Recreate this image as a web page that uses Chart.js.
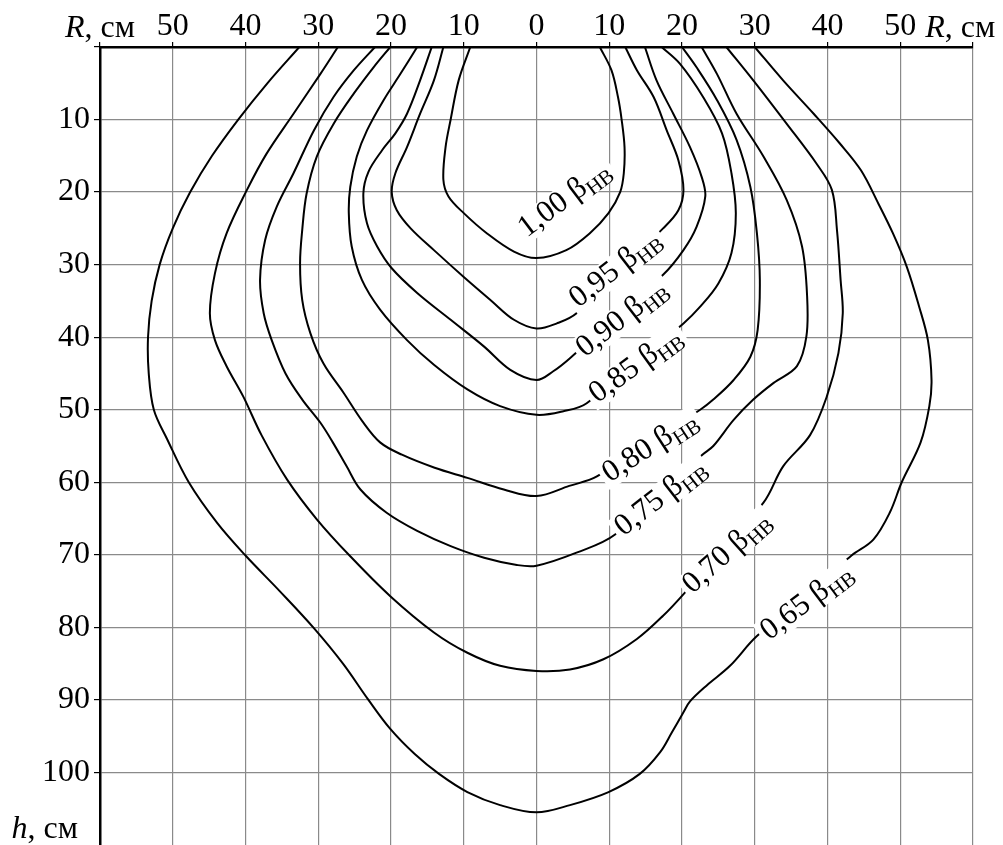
<!DOCTYPE html>
<html>
<head>
<meta charset="utf-8">
<script src="https://cdn.jsdelivr.net/npm/chart.js@4.4.1/dist/chart.umd.min.js"></script>
<style>
  html, body { margin: 0; padding: 0; background: #fff; }
  #wrap { width: 1003px; height: 845px; position: relative; }
</style>
</head>
<body>
<div id="wrap"><canvas id="chart"></canvas></div>
<script>
// --- DATA: isolines [R, h] in cm, left top -> bottom -> right top ---
const c100 = [[-9.1,0],[-10.7,4.6],[-11.8,10],[-12.5,13.8],[-12.8,18.3],[-12.1,20.6],[-10,22.9],[-6.8,25.7],[-3.1,28.2],[0,29.1],[4.1,28],[7.3,25.7],[9.9,22.9],[11.5,20],[12,17.4],[12.1,13.8],[11.7,10],[11.2,6.9],[10.3,3.2],[8.7,0]];
const c095 = [[-12.8,0],[-14.1,4.6],[-16,9.2],[-17.8,13.8],[-19.4,17.4],[-19.9,20],[-19.2,22.5],[-17.3,25],[-14.1,28],[-10,31.7],[-6.3,34.9],[-3.1,37.6],[0,38.8],[2.8,38.1],[5.5,36.7],[17.4,25],[19.5,22.5],[20.2,19.7],[19.5,15.6],[17.9,11.5],[16.1,6.9],[13.8,3.2],[12.2,0]];
const c090 = [[-14.4,0],[-16,4.6],[-17.8,9.2],[-19.4,11.9],[-21.2,14.2],[-23.1,17.2],[-23.8,20.2],[-23.3,24.3],[-21.9,27.5],[-19.9,30.5],[-16.4,33.9],[-11.8,37.6],[-7.2,41.3],[-3.6,44.5],[0,45.9],[2.3,44.7],[4.6,42.9],[17.4,31.4],[20.2,28],[22,24.8],[23.2,20.6],[22.7,17.9],[21.1,13.8],[18.8,9.2],[16.5,4.6],[14.9,0]];
const c085 = [[-16.4,0],[-18.7,3.7],[-21,7.3],[-23.3,11.5],[-24.7,15.1],[-25.6,19.3],[-25.8,22.9],[-25.4,27.5],[-24,32.1],[-21.5,36.2],[-17.8,40.4],[-14.1,43.8],[-9.5,47.2],[-5,49.5],[0,50.7],[3.7,50.2],[6.9,49.1],[20.2,38.1],[22.5,35.8],[25,32.6],[26.8,28.4],[27.4,22.9],[26.8,17.4],[25.5,11.9],[22.9,6.9],[19.7,2.3],[17.2,0]];
const c080 = [[-20.1,0],[-22.4,2.8],[-25.1,6.4],[-27.9,10.6],[-30.2,15.1],[-31.6,20.2],[-32.2,25.2],[-32.5,29.8],[-32.2,34.9],[-31.1,39.4],[-29.3,43.6],[-26.5,47.7],[-24,51.5],[-21.5,54.5],[-18.5,56.2],[-14,58],[-9.5,59.4],[-4.5,61],[0,61.9],[4.5,60.5],[8.3,59.2],[22.5,50],[24.3,48.6],[27.1,45.9],[29.4,42.7],[30.4,39],[30.7,32.1],[30.3,25.7],[29.4,19.3],[27.5,12.8],[24.8,7.3],[22,2.8],[20,0]];
const c075 = [[-22.2,0],[-25.1,3.2],[-27.9,6.9],[-30.6,11.5],[-33.4,17.4],[-35.7,22],[-37.3,26.6],[-38,32.1],[-37.5,36.7],[-36.4,40.4],[-34.5,45],[-32.2,48.6],[-29.7,51.8],[-28,54.5],[-26.1,57.8],[-24.2,61],[-20.6,64.2],[-16.4,66.7],[-11.8,68.8],[-7.2,70.4],[-2.7,71.4],[0,71.5],[5.5,69.7],[10.8,67.2],[22.8,56.2],[24.3,55],[27.1,51.4],[29.8,48.6],[32.6,46.3],[35.8,44],[37.1,39.9],[37.2,34.4],[36.5,27.5],[34.4,21.1],[31.2,15.1],[27.5,9.2],[24.8,3.7],[22.7,0]];
const c070 = [[-27.3,0],[-29.7,3.7],[-33.4,9.2],[-37.1,14.7],[-39.8,19.7],[-42.6,25.7],[-44.2,31.2],[-44.9,36.7],[-44.2,40.4],[-42.6,44],[-40.3,48.2],[-37.8,53.5],[-34.3,59.6],[-30.2,65.1],[-25.6,70.2],[-20.1,75.7],[-14.1,80.7],[-9.5,83.5],[-5,85.3],[0,86],[4.6,85.8],[9.2,84.4],[13.8,81.6],[17.4,78.4],[20.4,75.2],[31.2,62.8],[33.9,57.8],[37.6,53.5],[39.9,48.2],[41.5,42.2],[42.1,36.7],[41.8,32.1],[41.3,25.2],[40.6,19.7],[38.5,16.1],[34.4,10.6],[29.8,4.6],[26.1,0]];
const c065 = [[-32.6,0],[-37,5],[-41,10],[-44.6,15],[-47.6,20],[-50,25],[-51.8,30],[-52.9,35],[-53.4,40],[-53.3,45],[-52.6,50],[-50.8,54],[-47.8,60],[-43.9,65.6],[-40,70.1],[-35.3,75],[-30.6,80.1],[-26.6,85],[-23.1,90],[-20.1,94],[-16.7,97.5],[-13.4,100.2],[-9.5,102.7],[-5,104.5],[0,105.5],[4.6,104.5],[9.9,102.7],[14.2,100.2],[17,97.2],[18.6,94.5],[20.2,91.7],[21.1,90.2],[23.4,88],[26.6,85.3],[30.3,81.2],[43.3,70.1],[46.3,67.9],[48.6,64.1],[50.2,60],[52.8,54.5],[54,49.5],[54.3,45.9],[53.8,40.4],[52.6,35.8],[50.9,30.3],[49,25.7],[47,21.6],[44.6,17],[41.7,13.3],[38.1,9.2],[33.9,4.6],[30,0]];

const isolines = [c100, c095, c090, c085, c080, c075, c070, c065];
const levelNames = ['1,00', '0,95', '0,90', '0,85', '0,80', '0,75', '0,70', '0,65'];
// label anchor on each isoline (data units) and text slope
const labelR = [3.7, 10.7, 11.6, 13.5, 15.5, 16.9, 26.0, 37.0];
const labelH = [20.8, 30.4, 37.2, 43.7, 54.9, 61.9, 69.5, 76.3];
const labelAngle = [-37, -38, -38, -36, -33, -38, -42, -37];

// axis ticks
const xMin = -60, xMax = 60, hMax = 110, step = 10;

const FONT = '"Liberation Serif", "Times New Roman", serif';
const GRID = '#8a8a8a';

// --- HELPERS ---
function drawRuns(ctx, runs, x, y, align) {
    let total = 0;
    runs.forEach(r => { ctx.font = r.font; r.w = ctx.measureText(r.text).width; total += r.w; });
    let cx = align === 'right' ? x - total : (align === 'center' ? x - total / 2 : x);
    runs.forEach(r => {
        ctx.font = r.font;
        ctx.fillText(r.text, cx, y + (r.dy || 0));
        cx += r.w;
    });
}

// --- PLUGINS ---
const isoLabels = {
    id: 'isoLabels',
    afterDatasetsDraw(chart) {
        const { ctx, scales: { x, y } } = chart;
        levelNames.forEach((name, i) => {
            const px = x.getPixelForValue(labelR[i]);
            const py = y.getPixelForValue(labelH[i]);
            ctx.save();
            ctx.translate(px, py);
            ctx.rotate(labelAngle[i] * Math.PI / 180);
            ctx.font = '31px ' + FONT;
            const w1 = ctx.measureText(name + ' β').width;
            ctx.font = '21px ' + FONT;
            const w2 = ctx.measureText('НВ').width;
            const w = w1 + w2;
            ctx.fillStyle = '#fff';
            ctx.fillRect(-w / 2 - 4, -12, w + 8, 28);
            ctx.fillStyle = '#000';
            ctx.textBaseline = 'alphabetic';
            drawRuns(ctx, [
                { text: name + ' β', font: '31px ' + FONT },
                { text: 'НВ', font: '21px ' + FONT, dy: 6 }
            ], 0, 10, 'center');
            ctx.restore();
        });
    }
};

const axisTitles = {
    id: 'axisTitles',
    afterDraw(chart) {
        const { ctx, chartArea, scales: { x } } = chart;
        ctx.save();
        ctx.fillStyle = '#000';
        ctx.textBaseline = 'alphabetic';
        const rTitle = () => [
            { text: 'R', font: 'italic 32px ' + FONT },
            { text: ', см', font: '32px ' + FONT }
        ];
        drawRuns(ctx, rTitle(), chartArea.left, 37, 'center');
        drawRuns(ctx, rTitle(), x.getPixelForValue(50) + 25, 37, 'left');
        drawRuns(ctx, [
            { text: 'h', font: 'italic 32px ' + FONT },
            { text: ', см', font: '32px ' + FONT }
        ], 78, 838, 'right');
        ctx.restore();
    }
};

// --- CHART ---
const datasets = isolines.map(line => ({
    data: line.map(p => ({ x: p[0], y: p[1] })),
    showLine: true,
    borderColor: '#000',
    borderWidth: 2,
    pointRadius: 0,
    tension: 0.35,
    fill: false
}));

new Chart(document.getElementById('chart'), {
    type: 'scatter',
    data: { datasets },
    options: {
        responsive: true,
        maintainAspectRatio: false,
        animation: false,
        layout: { padding: { left: 0, top: 0, right: 30, bottom: 0 } },
        plugins: { legend: { display: false }, tooltip: { enabled: false } },
        scales: {
            x: {
                type: 'linear',
                position: 'top',
                min: xMin, max: xMax,
                afterFit: s => { s.height = 47; s.paddingLeft = 0; s.paddingRight = 0; },
                ticks: {
                    stepSize: step,
                    color: '#000',
                    padding: -4,
                    font: { family: FONT, size: 32 },
                    callback: v => (Math.abs(v) === 60 ? '' : String(Math.abs(v)))
                },
                grid: { color: GRID, lineWidth: 1.2, tickColor: '#000', tickLength: 5 },
                border: { color: '#000', width: 2.5 }
            },
            y: {
                type: 'linear',
                reverse: true,
                min: 0, max: hMax,
                afterFit: s => { s.width = 100; s.paddingTop = 0; s.paddingBottom = 0; },
                ticks: {
                    stepSize: step,
                    color: '#000',
                    padding: 4,
                    font: { family: FONT, size: 32 },
                    callback: v => (v === 0 || v === hMax ? '' : String(v))
                },
                grid: {
                    color: c => (c.tick && c.tick.value === hMax ? 'rgba(0,0,0,0)' : GRID),
                    tickColor: c => (c.tick && c.tick.value === hMax ? 'rgba(0,0,0,0)' : '#000'),
                    lineWidth: 1.2,
                    tickLength: 6
                },
                border: { color: '#000', width: 2.5 }
            }
        }
    },
    plugins: [isoLabels, axisTitles]
});
</script>
</body>
</html>
